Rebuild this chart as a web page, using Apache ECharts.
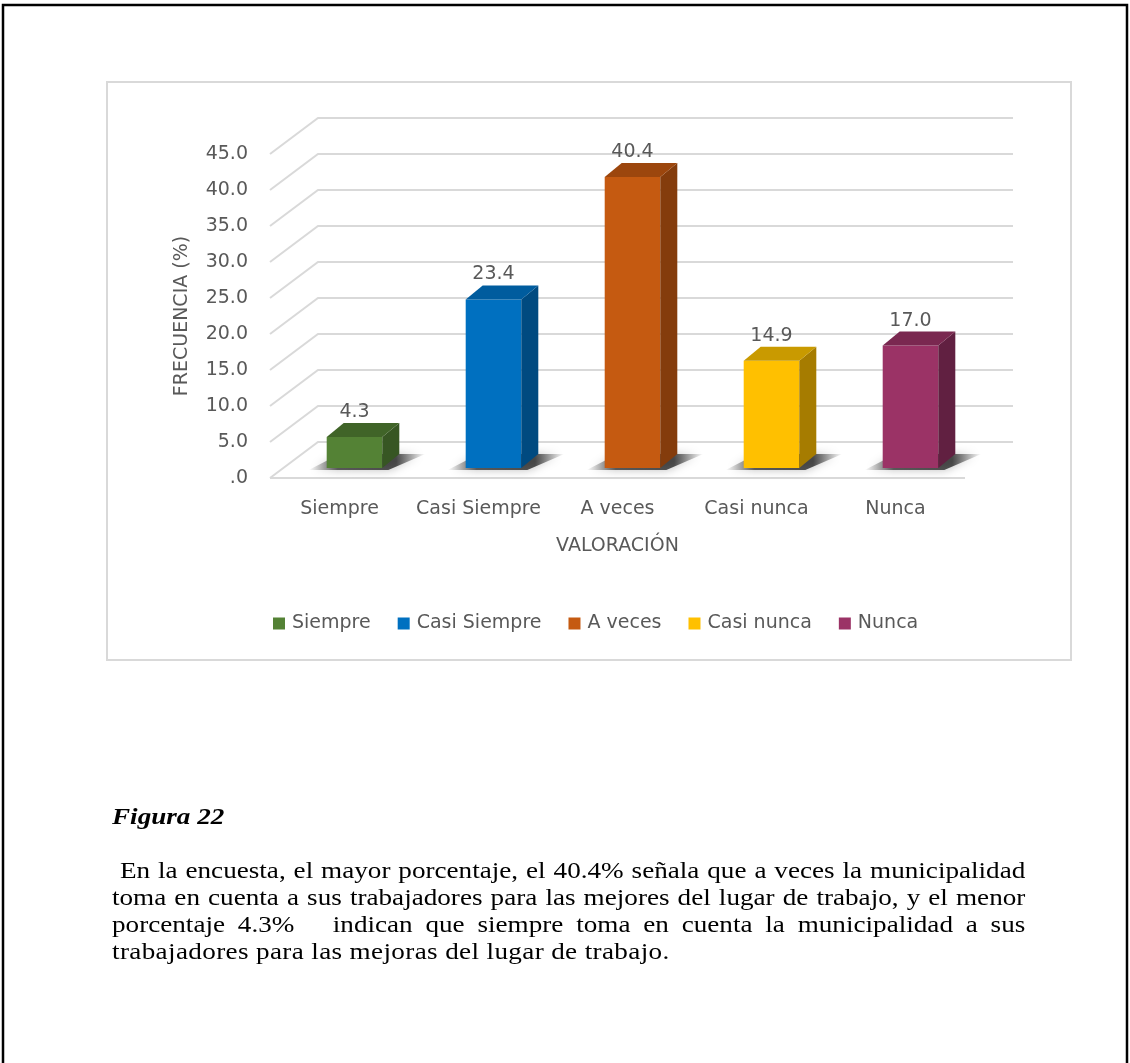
<!DOCTYPE html>
<html>
<head>
<meta charset="utf-8">
<title>Figura 22</title>
<script src="https://cdn.jsdelivr.net/npm/echarts@6/dist/echarts.min.js"></script>
<style>
    html, body { margin: 0; padding: 0; background: #fff; }
    #main { position: absolute; left: 0; top: 0; width: 1130px; height: 1063px; }
    #caption { position: absolute; left: 112px; top: 803px; width: 774px; transform: scaleX(1.18); transform-origin: 0 0;
               font-family: "Liberation Serif", "Times New Roman", serif; font-size: 23px; line-height: 27px; color: #000; }
    #caption .fig { font-weight: bold; font-style: italic; margin-bottom: 27px; }
    #caption .ln { text-align: justify; text-align-last: justify; white-space: pre; }
    #caption .last { text-align: left; text-align-last: left; letter-spacing: 0.3px; }
</style>
</head>
<body>
<div id="main"></div>
<div id="caption">
    <div class="fig">Figura 22</div>
    <div class="ln"> En la encuesta, el mayor porcentaje, el 40.4% señala que a veces la municipalidad</div>
    <div class="ln">toma en cuenta a sus trabajadores para las mejores del lugar de trabajo, y el menor</div>
    <div class="ln">porcentaje 4.3%   indican que siempre toma en cuenta la municipalidad a sus</div>
    <div class="ln last">trabajadores para las mejoras del lugar de trabajo.</div>
</div>
<script>
    // datos
    var categories = ['Siempre', 'Casi Siempre', 'A veces', 'Casi nunca', 'Nunca'];
    var values = [4.3, 23.4, 40.4, 14.9, 17.0];
    var yTicks = [0, 5, 10, 15, 20, 25, 30, 35, 40, 45];

    // colores: frente, lado, tapa
    var frontColors = ['#548235', '#0070c0', '#c55a11', '#ffc000', '#9b3366'];
    var sideColors = ['#375623', '#004a80', '#843c0c', '#a67c00', '#612041'];
    var topColors = ['#406428', '#005c9e', '#9c460d', '#c99a00', '#7a2850'];

    var BACK_DX = 48, BACK_DY = -36;   // pared del fondo
    var FRONT_DX = 15, FRONT_DY = -10; // cara frontal de la barra
    var DEPTH_DX = 17, DEPTH_DY = -14; // profundidad de la barra
    var TXT = '#595959';
    var FONT = 'DejaVu Sans';

    var myChart = echarts.init(document.getElementById('main'), null, { renderer: 'canvas' });

    function renderGrid(params, api) {
        var cs = params.coordSys;
        var y = api.coord([0, api.value(1)])[1];
        var xl = cs.x, xr = cs.x + cs.width;
        var st = { stroke: '#d9d9d9', lineWidth: 2, fill: null };
        var children = [{
            type: 'polyline',
            shape: { points: [[xl, y], [xl + BACK_DX, y + BACK_DY], [xr + BACK_DX, y + BACK_DY]] },
            style: st
        }];
        if (api.value(1) === 0) {
            children.push({ type: 'line', shape: { x1: xl, y1: y, x2: xr, y2: y }, style: st });
        }
        return { type: 'group', children: children };
    }

    function renderBar(params, api) {
        var i = api.value(0), v = api.value(1);
        var base = api.coord([i, 0]);
        var top = api.coord([i, v]);
        var w = api.size([1, 0])[0] * 0.4;
        var x0 = base[0] + FRONT_DX - w / 2, x1 = x0 + w;
        var yb = base[1] + FRONT_DY, yt = top[1] + FRONT_DY;
        var dx = DEPTH_DX, dy = DEPTH_DY;
        return {
            type: 'group',
            children: [{
                // sombra en el piso
                type: 'polygon',
                shape: { points: [[x0 - 18, yb + 2], [x1 + 6, yb + 2], [x1 + dx + 26, yb + dy], [x0 + dx - 4, yb + dy]] },
                style: {
                    fill: {
                        type: 'linear', x: 0, y: 0, x2: 1, y2: 0,
                        colorStops: [
                            { offset: 0, color: 'rgba(0,0,0,0)' },
                            { offset: 0.25, color: 'rgba(0,0,0,0.6)' },
                            { offset: 0.75, color: 'rgba(0,0,0,0.65)' },
                            { offset: 1, color: 'rgba(0,0,0,0)' }
                        ]
                    },
                    shadowBlur: 10, shadowColor: 'rgba(0,0,0,0.4)'
                }
            }, {
                type: 'rect',
                shape: { x: x0, y: yt, width: w, height: yb - yt },
                style: { fill: frontColors[i] }
            }, {
                type: 'polygon',
                shape: { points: [[x1, yt], [x1 + dx, yt + dy], [x1 + dx, yb + dy], [x1, yb]] },
                style: { fill: sideColors[i] }
            }, {
                type: 'polygon',
                shape: { points: [[x0, yt], [x1, yt], [x1 + dx, yt + dy], [x0 + dx, yt + dy]] },
                style: { fill: topColors[i] }
            }, {
                type: 'text',
                style: {
                    x: (x0 + x1) / 2, y: yt + dy - 11,
                    text: v.toFixed(1),
                    fill: TXT, font: '19px "' + FONT + '"',
                    align: 'center', verticalAlign: 'middle'
                }
            }]
        };
    }

    var series = [{
        type: 'custom',
        name: 'grid3d',
        renderItem: renderGrid,
        data: yTicks.map(function (t) { return [0, t]; }),
        encode: { x: 0, y: 1 },
        silent: true,
        z: 1
    }];
    categories.forEach(function (c, i) {
        series.push({
            type: 'custom',
            name: c,
            renderItem: renderBar,
            data: [[i, values[i]]],
            encode: { x: 0, y: 1 },
            itemStyle: { color: frontColors[i] },
            z: 2
        });
    });

    var option = {
        backgroundColor: '#fff',
        animation: false,
        graphic: [{
            type: 'rect', silent: true, z: -10,
            shape: { x: 3, y: 5, width: 1124, height: 1080 },
            style: { fill: null, stroke: '#000', lineWidth: 2.5 }
        }, {
            type: 'rect', silent: true, z: -10,
            shape: { x: 107, y: 82, width: 964, height: 578 },
            style: { fill: null, stroke: '#d9d9d9', lineWidth: 2 }
        }],
        legend: {
            data: categories,
            left: 268,
            top: 609,
            icon: 'rect',
            itemWidth: 12,
            itemHeight: 12,
            itemGap: 27,
            textStyle: { fontFamily: FONT, fontSize: 19, color: TXT, padding: [0, 0, 0, 2] }
        },
        grid: { left: 270, right: 165, top: 154, bottom: 585 },
        xAxis: {
            type: 'category',
            data: categories,
            name: 'VALORACIÓN',
            nameLocation: 'middle',
            nameGap: 59,
            nameTextStyle: { fontFamily: FONT, fontSize: 19, color: TXT },
            axisLine: { show: false },
            axisTick: { show: false },
            axisLabel: { interval: 0, hideOverlap: false, margin: 22, fontFamily: FONT, fontSize: 19, color: TXT }
        },
        yAxis: {
            type: 'value',
            min: 0,
            max: 45,
            interval: 5,
            name: 'FRECUENCIA (%)',
            nameLocation: 'middle',
            nameGap: 78,
            nameTextStyle: { fontFamily: FONT, fontSize: 19, color: TXT },
            axisLine: { show: false },
            axisTick: { show: false },
            splitLine: { show: false },
            axisLabel: {
                margin: 22, fontFamily: FONT, fontSize: 19, color: TXT,
                formatter: function (v) { return v === 0 ? '.0' : v.toFixed(1); }
            }
        },
        series: series
    };

    myChart.setOption(option);
</script>
</body>
</html>
